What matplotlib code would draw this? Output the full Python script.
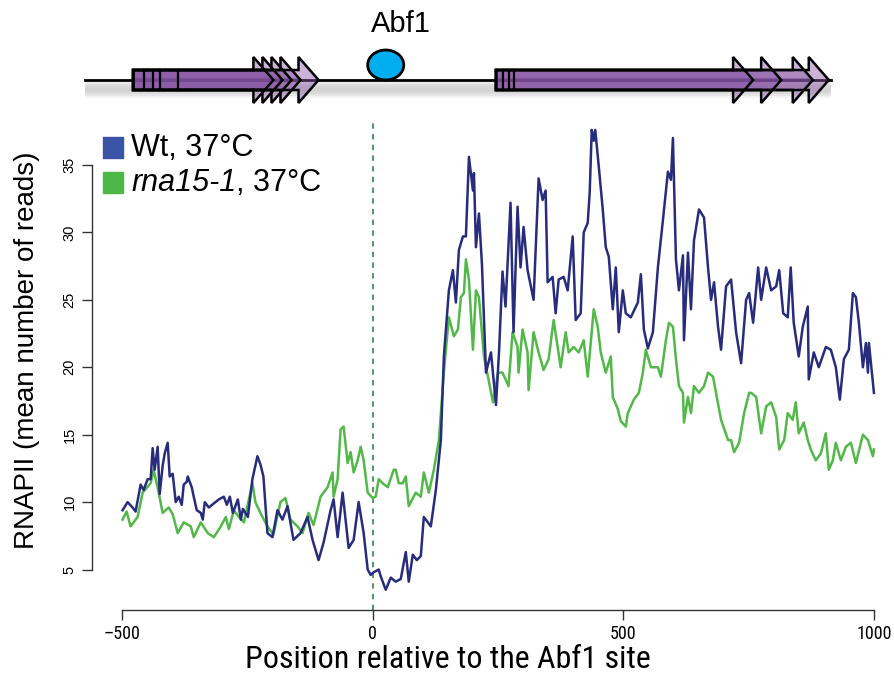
import matplotlib
matplotlib.use("Agg")
import matplotlib.pyplot as plt
from matplotlib.patches import Polygon, Ellipse, Rectangle

# RNAPII profile, Wt 37C (position relative to Abf1 site, mean reads)
wt_pos = [-499, -489, -479, -473, -463, -457, -449, -443, -439, -435, -429, -425, -419, -415,
          -409, -405, -399, -393, -387, -381, -377, -371, -369, -361, -357, -351, -343, -339,
          -335, -327, -317, -307, -297, -291, -285, -279, -269, -263, -259, -249, -240,
          -230, -224, -218, -210, -200, -190, -180, -170, -158, -144, -130, -120, -108, -98,
          -84, -78, -70, -60, -48, -38, -28, -18, -10, -4, 2, 12, 16, 26, 36, 46, 56, 66, 72,
          80, 88, 96, 102, 110, 116, 126, 136, 142, 152, 160, 166, 172, 180, 186, 192, 200,
          202, 206, 212, 218, 226, 236, 246, 252, 259, 265, 275, 281, 289, 295, 301, 309, 321,
          331, 339, 345, 349, 359, 365, 371, 381, 389, 399, 405, 415, 421, 429, 433, 437, 441,
          444, 451, 459, 465, 471, 479, 485, 491, 499, 505, 515, 529, 535, 541, 549, 559, 569, 579, 589,
          595, 599, 605, 611, 619, 621, 629, 635, 641, 651, 661, 669, 675, 681, 689, 695, 705,
          715, 725, 735, 745, 751, 759, 769, 775, 785, 795, 805, 811, 819, 828, 834, 840, 850,
          858, 868, 870, 880, 890, 904, 914, 924, 932, 940, 950, 958, 964, 970, 978, 984, 988,
          990, 998, 1000]
wt_reads = [9.4, 10.0, 9.6, 9.3, 11.3, 10.9, 11.7, 11.7, 14.0, 12.4, 14.1, 10.6, 12.7, 13.6,
            14.4, 11.9, 12.1, 10.0, 10.4, 9.8, 11.3, 11.5, 11.9, 11.1, 10.4, 9.4, 9.2, 8.7,
            10.0, 9.6, 9.9, 10.2, 10.4, 9.8, 10.4, 9.2, 10.2, 8.7, 9.5, 8.9, 11.7,
            13.4, 12.8, 11.9, 7.7, 7.4, 9.4, 8.7, 9.7, 7.2, 7.7, 8.9, 7.2, 5.7, 7.0,
            9.4, 10.2, 7.4, 10.7, 6.6, 7.2, 10.0, 7.7, 5.0, 4.6, 4.8, 5.0, 4.5, 3.5, 4.4, 4.1, 4.3, 6.3, 4.1,
            6.1, 5.7, 6.0, 8.9, 8.5, 8.2, 10.9, 14.6, 20.8, 25.7, 27.2, 24.8, 28.7, 29.7, 29.7, 35.6, 33.1,
            34.4, 28.9, 31.4, 27.6, 19.6, 21.1, 17.2, 21.1, 27.1, 24.5, 32.2, 22.6, 31.9, 27.4, 30.4, 27.2, 25.0,
            34.0, 32.4, 33.1, 26.3, 26.7, 24.0, 26.5, 26.7, 25.7, 29.7, 23.5, 24.0, 30.0, 30.7, 33.0, 37.6, 36.8,
            37.6, 34.9,
            31.7, 28.9, 28.2, 24.3, 27.4, 22.6, 25.7, 24.0, 23.7, 24.8, 26.9, 22.8, 21.4, 22.6, 27.4, 30.9, 34.5,
            33.9, 37.0, 28.0, 25.7, 28.3, 22.0, 28.5, 24.3, 29.4, 31.7, 31.1, 27.4, 25.0, 26.3, 23.0, 21.3, 26.0,
            26.5, 22.6, 20.3, 25.0, 25.5, 23.3, 27.4, 25.0, 27.4, 25.7, 26.0, 27.2, 24.0, 23.7, 27.4, 23.3, 20.8,
            23.0, 24.5, 19.1, 21.1, 20.0, 21.5, 21.3, 20.0, 17.6, 20.6, 21.3, 25.5, 25.2, 23.3, 20.0, 21.8, 19.6,
            21.8, 18.9, 18.1]

# RNAPII profile, rna15-1 37C
mut_pos = [-499, -491, -483, -469, -459, -443, -437, -427, -419, -407, -399, -389, -377, -363,
           -357, -343, -329, -317, -303, -293, -287, -277, -267, -257, -247, -240, -234, -224,
           -210, -198, -184, -174, -164, -150, -140, -128, -118, -104, -90, -80, -78, -70, -64,
           -58, -50, -44, -38, -30, -24, -18, -10, 0, 6, 12, 20, 30, 42, 46, 52, 60, 66, 72, 76,
           86, 96, 102, 112, 122, 132, 142, 152, 162, 170, 176, 182, 186, 192, 200, 206, 212,
           222, 230, 240, 250, 259, 271, 279, 289, 291, 299, 309, 311, 321, 331, 341, 351, 361,
           369, 375, 385, 391, 401, 411, 421, 429, 441, 449, 455, 465, 475, 479, 489, 495, 505,
           509, 521, 531, 539, 545, 555, 569, 575, 585, 591, 599, 605, 611, 619, 621, 629, 635,
           641, 651, 661, 669, 679, 685, 695, 709, 715, 721, 731, 741, 751, 755, 765, 775, 785,
           795, 805, 811, 821, 828, 838, 844, 850, 860, 868, 874, 884, 894, 904, 910, 918, 924,
           934, 944, 954, 964, 978, 988, 998, 1000]
mut_reads = [8.7, 9.3, 8.2, 8.9, 10.7, 11.4, 12.4, 10.7, 9.2, 9.6, 9.1, 7.7, 8.5, 8.2,
             7.4, 8.5, 7.7, 7.4, 8.2, 8.9, 8.0, 9.4, 8.9, 8.5, 10.2, 11.4, 10.0, 9.2,
             8.2, 7.6, 10.0, 10.3, 8.7, 8.2, 7.7, 9.2, 8.3, 10.4, 11.1, 12.2, 10.4, 11.7, 15.4,
             15.6, 12.9, 13.7, 12.2, 13.1, 14.1, 13.1, 10.7, 10.3, 10.4, 11.7, 11.4, 11.1, 12.4, 12.4, 11.4, 11.4, 11.9, 9.7, 10.0,
             10.7, 10.4, 12.2, 10.7, 12.4, 14.6, 19.6, 23.7, 22.3, 22.8, 25.2, 25.5, 28.0, 26.5, 21.3, 25.7, 25.2,
             20.8, 19.3, 17.4, 19.6, 19.6, 18.6, 22.6, 21.5, 19.6, 22.8, 21.1, 18.3, 22.6, 21.1, 19.8, 20.6, 23.5,
             21.5, 20.0, 22.6, 21.1, 21.5, 21.1, 22.0, 19.3, 24.3, 23.0, 21.1, 19.6, 20.8, 17.8, 16.9, 16.0, 15.6,
             16.6, 17.6, 18.1, 19.6, 21.3, 20.0, 20.0, 19.3, 22.0, 23.3, 23.0, 20.6, 18.6, 18.1, 15.9, 17.8, 16.6,
             18.6, 18.1, 18.6, 19.6, 19.3, 18.1, 16.1, 14.6, 14.6, 13.7, 14.4, 16.6, 18.1, 18.1, 17.8, 15.1, 17.1,
             17.4, 16.3, 13.9, 14.6, 16.6, 16.1, 17.4, 15.1, 15.9, 14.6, 13.9, 13.1, 13.6, 15.1, 12.4, 13.1, 14.4,
             13.1, 14.1, 14.4, 12.9, 15.0, 14.6, 13.4, 13.9]

x_ticks = [-500, 0, 500, 1000]
x_tick_labels = ["\u2013500", "0", "500", "1000"]
y_ticks = [5, 10, 15, 20, 25, 30, 35]

# gene diagram (positions relative to the Abf1 site)
gene1_start = -478
gene1_bases = [-238, -220, -202, -184, -148]
gene1_marks = [-457, -439, -425, -389]
gene2_start = 246
gene2_bases = [719, 775, 838, 870]
gene2_marks = [259, 271, 281]
abf1_site = 26

WT_COLOR = "#272C7C"
MUT_COLOR = "#52B848"
SANS = ["Liberation Sans", "DejaVu Sans"]
NARROW = ["Roboto Condensed", "Liberation Sans", "DejaVu Sans"]

fig = plt.figure(figsize=(8.95, 6.8), dpi=100)
W, H = 895, 680
ax = fig.add_axes([92 / W, (H - 610) / H, 812 / W, 499 / H])
ax.set_xlim(-560, 1060)
ax.set_ylim(2.0, 39.0)

ax.plot(mut_pos, mut_reads, color=MUT_COLOR, lw=1.8, zorder=3)
ax.plot(wt_pos, wt_reads, color=WT_COLOR, lw=1.8, zorder=4)
ax.plot([0, 0], [2.0, 38.5], color="#1E7B3C", lw=1.1, ls=(0, (3.5, 3.5)), zorder=2)

for s in ["top", "right"]:
    ax.spines[s].set_visible(False)
ax.spines["left"].set_bounds(5, 35)
ax.spines["bottom"].set_bounds(-500, 1000)
for s in ["left", "bottom"]:
    ax.spines[s].set_color("#333333")
    ax.spines[s].set_linewidth(1.0)
ax.set_xticks(x_ticks)
ax.set_xticklabels(x_tick_labels, family=NARROW, fontsize=13)
ax.set_yticks(y_ticks)
ax.set_yticklabels([str(v) for v in y_ticks], rotation=90, va="center",
                   family=SANS, fontsize=10.5)
ax.tick_params(axis="both", length=7, width=1.0, color="#333333", pad=4)

fig.text(27 / W, 1 - 350 / H, "RNAPII (mean number of reads)", rotation=90,
         ha="center", va="center", fontsize=20, family=SANS)
fig.text(448 / W, 1 - 660 / H, "Position relative to the Abf1 site",
         ha="center", va="center", fontsize=23, family=NARROW)

# legend
fig.patches.append(Rectangle((103 / W, 1 - 158 / H), 20 / W, 21 / H,
                             transform=fig.transFigure, color="#3A55A6"))
fig.patches.append(Rectangle((103 / W, 1 - 193 / H), 20 / W, 21 / H,
                             transform=fig.transFigure, color="#4DB848"))
fig.text(131 / W, 1 - 148 / H, "Wt, 37°C", fontsize=22, va="center", family=SANS)
t_mut = fig.text(131 / W, 1 - 183 / H, "rna15-1", fontsize=22, va="center",
                 family=SANS, style="italic")
ax.annotate(", 37°C", xy=(1.0, 0.5), xycoords=t_mut, va="center", ha="left",
            fontsize=22, family=SANS, annotation_clip=False)

# gene diagram on top, y in pixel rows
top = fig.add_axes([92 / W, (H - 110) / H, 812 / W, 110 / H])
top.set_xlim(-560, 1060)
top.set_ylim(110, 0)
top.axis("off")

for off, a in [(0, 0.35), (2, 0.35), (4, 0.3), (6, 0.2)]:
    top.fill_between([-573, 914], 82 + off, 92 + off, color="#c8c8c8", alpha=a, lw=0,
                     clip_on=False)
top.plot([-573, 914], [80, 80], color="black", lw=2, clip_on=False, zorder=2)


def transcript(start, base):
    tip = base + 40
    pts = [(start, 70), (base, 70), (base, 57), (tip, 80), (base, 103), (base, 90), (start, 90)]
    top.add_patch(Polygon(pts, closed=True, facecolor="#8A58A6", alpha=0.45, lw=0, zorder=3))
    top.add_patch(Polygon(pts, closed=True, facecolor="none", edgecolor="black", lw=1.8,
                          joinstyle="miter", zorder=5))


for b in gene1_bases:
    transcript(gene1_start, b)
for b in gene2_bases:
    transcript(gene2_start, b)
top.plot([gene1_start, gene1_bases[-1]], [80, 80], color="#5E3A7A", lw=3, alpha=0.4, zorder=4)
top.plot([gene2_start, gene2_bases[-1]], [80, 80], color="#5E3A7A", lw=3, alpha=0.4, zorder=4)
for m in gene1_marks + gene2_marks:
    top.plot([m, m], [70, 90], color="black", lw=1.6, zorder=6)

top.add_patch(Ellipse((abf1_site, 65), 72, 30, facecolor="#00AEEF", edgecolor="black",
                      lw=2, zorder=6))
top.text(abf1_site + 30, 24, "Abf1", ha="center", va="center", fontsize=21, family=SANS)

fig.savefig("out.png", dpi=100)
